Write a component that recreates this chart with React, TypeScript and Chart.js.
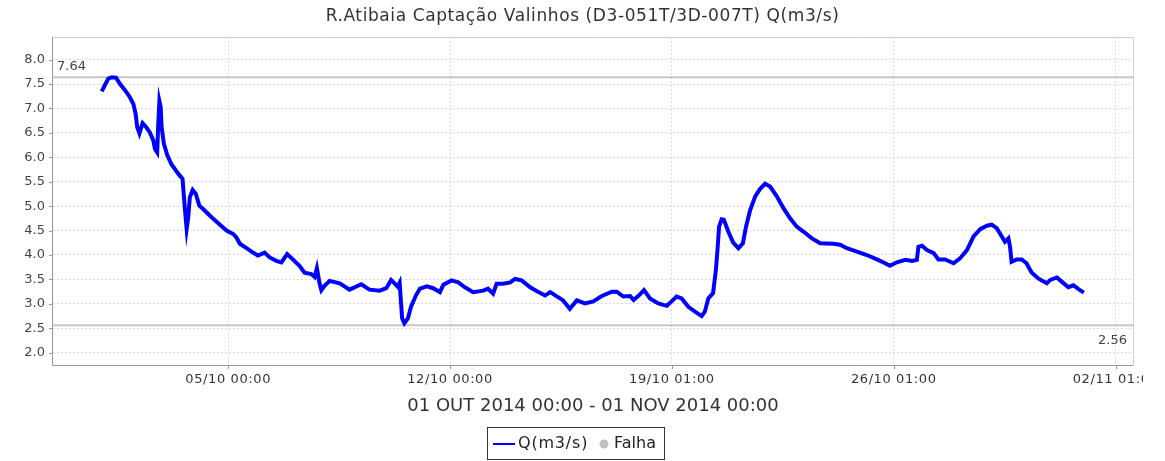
import React, { useEffect, useRef } from 'react';
import { Chart, registerables } from 'chart.js';

Chart.register(...registerables);

const TITLE = 'R.Atibaia Captação Valinhos (D3-051T/3D-007T) Q(m3/s)';
const AXIS_TITLE = '01 OUT 2014 00:00 - 01 NOV 2014 00:00';
const SERIES_LABEL = 'Q(m3/s)';
const FAULT_LABEL = 'Falha';

// days since 01/10/2014 00:00
const dayOffsets = [
  0.01, 0.12, 0.22, 0.33, 0.46, 0.59, 0.75, 0.9, 1.01, 1.08, 1.13, 1.2, 1.3, 1.41, 1.53, 1.64, 1.69, 1.76,
  1.79, 1.83, 1.87, 1.9, 1.97, 2.08, 2.21, 2.35, 2.48, 2.56, 2.58, 2.63, 2.69, 2.74, 2.79, 2.88, 2.98, 3.09,
  3.21, 3.37, 3.53, 3.74, 3.95, 4.16, 4.26, 4.37, 4.58, 4.78, 4.94, 5.15, 5.31, 5.52, 5.68, 5.86, 6.04, 6.25,
  6.41, 6.62, 6.73, 6.8, 6.88, 6.94, 7.04, 7.2, 7.52, 7.83, 8.2, 8.46, 8.78, 8.99, 9.14, 9.25, 9.35, 9.41,
  9.49, 9.56, 9.67, 9.77, 9.93, 10.05, 10.27, 10.47, 10.68, 10.79, 11.05, 11.26, 11.47, 11.73, 12.05, 12.2,
  12.36, 12.47, 12.68, 12.9, 13.05, 13.26, 13.53, 13.79, 14.0, 14.16, 14.57, 14.78, 15.0, 15.26, 15.52, 15.79,
  16.11, 16.26, 16.47, 16.68, 16.79, 16.94, 17.12, 17.31, 17.57, 17.84, 17.99, 18.15, 18.31, 18.52, 18.73,
  18.94, 19.04, 19.15, 19.3, 19.39, 19.44, 19.49, 19.57, 19.64, 19.78, 19.93, 20.1, 20.24, 20.34, 20.47,
  20.63, 20.78, 20.94, 21.1, 21.31, 21.52, 21.73, 21.94, 22.15, 22.42, 22.68, 23.1, 23.31, 23.52, 23.84,
  24.15, 24.47, 24.73, 24.88, 25.1, 25.37, 25.58, 25.73, 25.78, 25.89, 26.05, 26.26, 26.41, 26.62, 26.89,
  27.09, 27.31, 27.52, 27.73, 27.94, 28.09, 28.25, 28.41, 28.51, 28.62, 28.67, 28.72, 28.88, 29.04, 29.19,
  29.35, 29.56, 29.83, 29.94, 30.15, 30.31, 30.51, 30.67, 30.83, 31.0,
];

const flowValues = [
  7.35, 7.49, 7.61, 7.64, 7.63, 7.5, 7.37, 7.23, 7.09, 6.89, 6.62, 6.49, 6.7, 6.62, 6.51, 6.34, 6.17, 6.1,
  6.62, 7.15, 7.03, 6.62, 6.28, 6.04, 5.86, 5.73, 5.62, 5.56, 5.39, 4.98, 4.53, 4.77, 5.18, 5.33, 5.25, 5.01,
  4.94, 4.84, 4.74, 4.62, 4.5, 4.43, 4.36, 4.23, 4.14, 4.05, 3.99, 4.05, 3.95, 3.88, 3.85, 4.02, 3.91, 3.78,
  3.64, 3.61, 3.55, 3.73, 3.43, 3.28, 3.37, 3.47, 3.42, 3.29, 3.4, 3.29, 3.27, 3.32, 3.49, 3.42, 3.35, 3.43,
  2.7, 2.6, 2.7, 2.94, 3.18, 3.31, 3.36, 3.32, 3.24, 3.39, 3.48, 3.44, 3.34, 3.24, 3.27, 3.31,
  3.21, 3.41, 3.41, 3.44, 3.51, 3.48, 3.34, 3.24, 3.17, 3.24, 3.07, 2.9, 3.07, 3.01, 3.05, 3.16,
  3.25, 3.25, 3.15, 3.16, 3.08, 3.16, 3.28, 3.11, 3.01, 2.96, 3.05, 3.15, 3.11, 2.94, 2.84,
  2.75, 2.84, 3.11, 3.22, 3.7, 4.11, 4.58, 4.73, 4.72, 4.48, 4.26, 4.14, 4.24, 4.58, 4.92,
  5.2, 5.35, 5.46, 5.4, 5.2, 4.96, 4.75, 4.58, 4.48, 4.34, 4.24, 4.23, 4.21, 4.14, 4.07,
  4.0, 3.91, 3.83, 3.78, 3.85, 3.9, 3.88, 3.9, 4.17, 4.19, 4.1, 4.04, 3.91, 3.91, 3.83,
  3.93, 4.1, 4.38, 4.53, 4.6, 4.62, 4.55, 4.38, 4.27, 4.34, 4.17, 3.86, 3.91, 3.91, 3.83,
  3.64, 3.52, 3.42, 3.49, 3.54, 3.45, 3.34, 3.38, 3.3, 3.23,
];

const xTickDays = [4, 11, 18, 25, 32];
const xTickLabels = ['05/10 00:00', '12/10 00:00', '19/10 01:00', '26/10 01:00', '02/11 01:00'];
const yTickValues = [2.0, 2.5, 3.0, 3.5, 4.0, 4.5, 5.0, 5.5, 6.0, 6.5, 7.0, 7.5, 8.0];
const maxFlowLine = 7.64;
const minFlowLine = 2.56;

const FONT = '"DejaVu Sans", sans-serif';

const decorPlugin = {
  id: 'decor',
  beforeDatasetsDraw(chart: any) {
    const { ctx, chartArea: a, scales } = chart;
    const y = scales.y;
    ctx.save();
    ctx.strokeStyle = '#c6c6c6';
    ctx.lineWidth = 2;
    for (const v of [maxFlowLine, minFlowLine]) {
      const py = y.getPixelForValue(v);
      ctx.beginPath();
      ctx.moveTo(a.left, py);
      ctx.lineTo(a.right, py);
      ctx.stroke();
    }
    ctx.restore();
  },
  afterDraw(chart: any) {
    const { ctx, chartArea: a, scales } = chart;
    const x = scales.x;
    const y = scales.y;
    ctx.save();
    // frame
    ctx.lineWidth = 1;
    ctx.strokeStyle = '#cfcfcf';
    ctx.beginPath();
    ctx.moveTo(a.left, a.top + 0.5);
    ctx.lineTo(a.right + 0.5, a.top + 0.5);
    ctx.lineTo(a.right + 0.5, a.bottom);
    ctx.stroke();
    ctx.strokeStyle = '#999';
    ctx.beginPath();
    ctx.moveTo(a.left - 0.5, a.top);
    ctx.lineTo(a.left - 0.5, a.bottom + 0.5);
    ctx.lineTo(a.right + 0.5, a.bottom + 0.5);
    ctx.stroke();
    // tick marks
    ctx.beginPath();
    for (const d of xTickDays) {
      const px = Math.round(x.getPixelForValue(d)) + 0.5;
      ctx.moveTo(px, a.bottom);
      ctx.lineTo(px, a.bottom + 4);
    }
    for (const v of yTickValues) {
      const py = Math.round(y.getPixelForValue(v)) + 0.5;
      ctx.moveTo(a.left - 4, py);
      ctx.lineTo(a.left, py);
    }
    ctx.stroke();

    // threshold labels
    ctx.fillStyle = '#444';
    ctx.font = `13px ${FONT}`;
    ctx.textBaseline = 'alphabetic';
    ctx.textAlign = 'left';
    ctx.fillText(maxFlowLine.toFixed(2), a.left + 4, y.getPixelForValue(maxFlowLine) - 7);
    ctx.textAlign = 'right';
    ctx.fillText(minFlowLine.toFixed(2), a.right - 6, y.getPixelForValue(minFlowLine) + 19);

    // x tick labels (clipped like the source image)
    ctx.save();
    ctx.beginPath();
    ctx.rect(0, 0, 1143, chart.height);
    ctx.clip();
    ctx.fillStyle = '#333';
    ctx.font = `13px ${FONT}`;
    (ctx as any).letterSpacing = '0.6px';
    ctx.textAlign = 'center';
    ctx.textBaseline = 'top';
    xTickDays.forEach((d, i) => {
      ctx.fillText(xTickLabels[i], x.getPixelForValue(d), a.bottom + 8);
    });
    ctx.restore();

    // title
    ctx.fillStyle = '#333';
    ctx.font = `17px ${FONT}`;
    (ctx as any).letterSpacing = '0.6px';
    ctx.textAlign = 'center';
    ctx.textBaseline = 'middle';
    ctx.fillText(TITLE, chart.width / 2, 17);
    (ctx as any).letterSpacing = '0px';

    // axis title
    ctx.font = `18px ${FONT}`;
    ctx.textBaseline = 'alphabetic';
    ctx.fillText(AXIS_TITLE, (a.left + a.right) / 2, 410.5);

    // legend
    ctx.strokeStyle = '#333';
    ctx.lineWidth = 1;
    ctx.strokeRect(487.5, 427.5, 177, 32);
    ctx.strokeStyle = '#0000ff';
    ctx.lineWidth = 2;
    ctx.beginPath();
    ctx.moveTo(493, 444);
    ctx.lineTo(515, 444);
    ctx.stroke();
    ctx.fillStyle = '#222';
    ctx.font = `16px ${FONT}`;
    ctx.textAlign = 'left';
    ctx.textBaseline = 'middle';
    (ctx as any).letterSpacing = '0.8px';
    ctx.fillText(SERIES_LABEL, 518, 444);
    (ctx as any).letterSpacing = '0px';
    ctx.fillStyle = '#c0c0c0';
    ctx.beginPath();
    ctx.arc(604, 444, 4.5, 0, Math.PI * 2);
    ctx.fill();
    ctx.fillStyle = '#222';
    ctx.fillText(FAULT_LABEL, 614, 444);
    ctx.restore();
  },
};

export default function App() {
  const canvasRef = useRef<HTMLCanvasElement | null>(null);

  useEffect(() => {
    const canvas = canvasRef.current;
    if (!canvas) return;
    const points = dayOffsets.map((d, i) => ({ x: d, y: flowValues[i] }));
    const chart = new Chart(canvas, {
      type: 'line',
      data: {
        datasets: [
          {
            label: SERIES_LABEL,
            data: points,
            borderColor: '#0000ff',
            backgroundColor: '#0000ff',
            borderWidth: 4,
            pointRadius: 0,
            tension: 0,
            fill: false,
          },
        ],
      },
      options: {
        animation: false,
        responsive: false,
        devicePixelRatio: 1,
        layout: { padding: { left: 0, top: 37, right: 32, bottom: 0 } },
        plugins: {
          legend: { display: false },
          title: { display: false },
          tooltip: { enabled: false },
        },
        scales: {
          x: {
            type: 'linear',
            min: -1.527,
            max: 32.55,
            afterBuildTicks: (scale: any) => {
              scale.ticks = xTickDays.map((v) => ({ value: v }));
            },
            afterFit: (scale: any) => {
              scale.height = 96;
            },
            ticks: { display: false, autoSkip: false },
            grid: { color: '#d8d8d8', lineWidth: 1, drawTicks: false },
            border: { display: false, dash: [2, 2] },
          },
          y: {
            type: 'linear',
            min: 1.748,
            max: 8.463,
            afterBuildTicks: (scale: any) => {
              scale.ticks = yTickValues.map((v) => ({ value: v }));
            },
            afterFit: (scale: any) => {
              scale.width = 53;
            },
            ticks: {
              autoSkip: false,
              color: '#444',
              padding: 8,
              font: { family: FONT, size: 13 },
              callback: (v: any) => Number(v).toFixed(1),
            },
            grid: { color: '#d8d8d8', lineWidth: 1, drawTicks: false },
            border: { display: false, dash: [2, 2] },
          },
        },
      },
      plugins: [decorPlugin],
    });
    return () => chart.destroy();
  }, []);

  return (
    <div style={{ position: 'absolute', left: 0, top: 0, width: 1165, height: 461, background: '#fff' }}>
      <canvas ref={canvasRef} width={1165} height={461} style={{ display: 'block' }} />
    </div>
  );
}
